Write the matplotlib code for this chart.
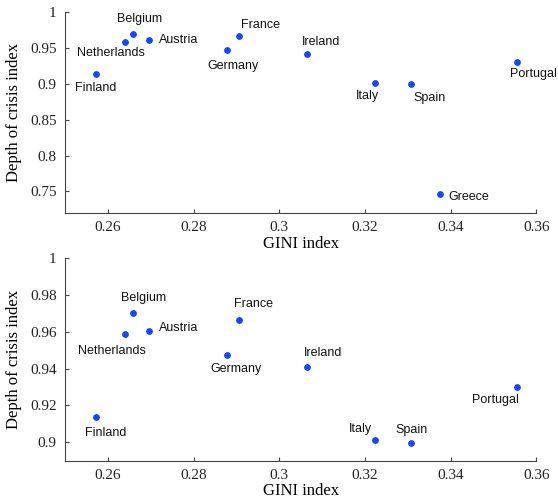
import matplotlib
matplotlib.use("Agg")
import matplotlib.pyplot as plt

# data
countries = ["Finland", "Netherlands", "Belgium", "Austria", "Germany", "France",
             "Ireland", "Italy", "Spain", "Portugal", "Greece"]
gini = [0.2572, 0.2640, 0.2659, 0.2696, 0.2878, 0.2906,
        0.3064, 0.3223, 0.3307, 0.3555, 0.3375]
depth = [0.9135, 0.9588, 0.9700, 0.9604, 0.9473, 0.9667,
         0.9409, 0.9011, 0.8995, 0.9300, 0.7463]

# label offsets in pixels (dx, dy, ha) for each panel
offs_top = {"Finland": (0, -14, "center"), "Netherlands": (-14, -11, "center"),
            "Belgium": (6, 15, "center"), "Austria": (10, 0, "left"),
            "Germany": (6, -16, "center"), "France": (22, 11, "center"),
            "Ireland": (14, 12, "center"), "Italy": (-7, -13, "center"),
            "Spain": (19, -14, "center"), "Portugal": (16, -12, "center"),
            "Greece": (8, -3, "left")}
offs_bot = {"Finland": (10, -16, "center"), "Netherlands": (-13, -17, "center"),
            "Belgium": (10, 15, "center"), "Austria": (10, 3, "left"),
            "Germany": (9, -14, "center"), "France": (15, 16, "center"),
            "Ireland": (16, 14, "center"), "Italy": (-14, 11, "center"),
            "Spain": (1, 13, "center"), "Portugal": (-22, -13, "center"),
            "Greece": (8, -3, "left")}

fig = plt.figure(figsize=(5.58, 4.99), dpi=100)
ax1 = fig.add_axes([0.1165, 0.5731, 0.8446, 0.4028])
ax2 = fig.add_axes([0.1165, 0.0768, 0.8446, 0.4056])

px = 0.72  # points per pixel
blue = "#1747f0"

def draw(ax, xs, ys, names, offs, ylim, yticks, yticklabels):
    ax.scatter(xs, ys, s=24, color=blue, zorder=3, linewidths=0)
    for n, x, y in zip(names, xs, ys):
        dx, dy, ha = offs[n]
        ax.annotate(n, (x, y), xytext=(dx * px, dy * px), textcoords="offset points",
                    ha=ha, va="center", fontsize=9, family="Liberation Sans",
                    color="#111111")
    ax.set_xlim(0.25, 0.36)
    ax.set_ylim(*ylim)
    ax.set_xticks([0.26, 0.28, 0.30, 0.32, 0.34, 0.36])
    ax.set_xticklabels(["0.26", "0.28", "0.3", "0.32", "0.34", "0.36"])
    ax.set_yticks(yticks)
    ax.set_yticklabels(yticklabels)
    for s in ["top", "right"]:
        ax.spines[s].set_visible(False)
    for s in ["left", "bottom"]:
        ax.spines[s].set_color("#444444")
        ax.spines[s].set_linewidth(0.8)
    ax.tick_params(direction="in", length=3, width=0.8, color="#444444",
                   labelsize=11, pad=6)
    for lab in ax.get_xticklabels() + ax.get_yticklabels():
        lab.set_family("Liberation Serif")
        lab.set_color("#222222")
    ax.set_xlabel("GINI index", family="Liberation Serif", fontsize=12, labelpad=1)
    ax.set_ylabel("Depth of crisis index", family="Liberation Serif", fontsize=12, labelpad=6)

draw(ax1, gini, depth, countries, offs_top, (0.72, 1.0),
     [0.75, 0.8, 0.85, 0.9, 0.95, 1.0], ["0.75", "0.8", "0.85", "0.9", "0.95", "1"])

# second panel leaves out Greece
names2 = [c for c in countries if c != "Greece"]
gini2 = [g for c, g in zip(countries, gini) if c != "Greece"]
depth2 = [d for c, d in zip(countries, depth) if c != "Greece"]
draw(ax2, gini2, depth2, names2, offs_bot, (0.89, 1.0),
     [0.9, 0.92, 0.94, 0.96, 0.98, 1.0], ["0.9", "0.92", "0.94", "0.96", "0.98", "1"])

fig.savefig("out.png", dpi=100)
